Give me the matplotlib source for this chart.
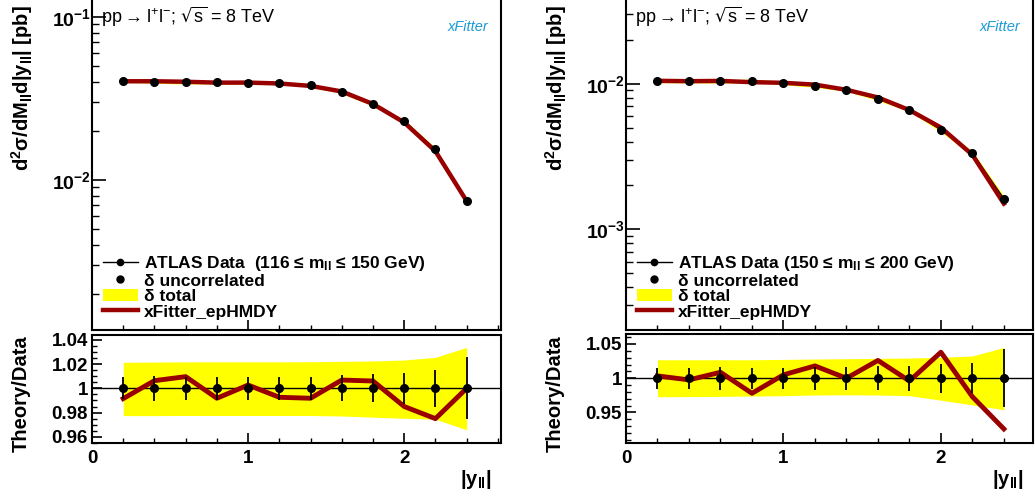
import matplotlib
matplotlib.use("Agg")
import matplotlib.pyplot as plt
import numpy as np
from matplotlib.ticker import MultipleLocator, LogLocator, NullFormatter, FuncFormatter
from matplotlib.lines import Line2D
from matplotlib.patches import Patch

## -----------------------------------------------------------------------------
## ATLAS high-mass Drell-Yan |y_ll| spectra vs xFitter_epHMDY, two mass bins
## -----------------------------------------------------------------------------

plt.rcParams["font.family"] = ["Liberation Sans", "DejaVu Sans"]
plt.rcParams["mathtext.default"] = "regular"

# |y_ll| bin centres
y_ll = [0.2, 0.4, 0.6, 0.8, 1.0, 1.2, 1.4, 1.6, 1.8, 2.0, 2.2, 2.4]

# 116 < m_ll < 150 GeV
xsec_116 = [0.0407, 0.0401, 0.0397, 0.0399, 0.0395, 0.0394, 0.0381, 0.0347, 0.0291, 0.0229, 0.0154, 0.00743]
ratio_116 = [0.9915, 1.0063, 1.0096, 0.9918, 1.0027, 0.9926, 0.9918, 1.0068, 1.0060, 0.9850, 0.9750, 1.0000]
tot_up_116 = [1.0214, 1.0216, 1.0218, 1.0218, 1.0218, 1.0218, 1.0219, 1.0222, 1.0225, 1.0233, 1.0255, 1.0337]
tot_dn_116 = [0.9775, 0.9775, 0.9776, 0.9776, 0.9776, 0.9776, 0.9776, 0.9772, 0.9762, 0.9753, 0.9745, 0.9658]
unc_116 = [0.0092, 0.0101, 0.0096, 0.0096, 0.0096, 0.0096, 0.0093, 0.0107, 0.0114, 0.0126, 0.0153, 0.0256]

# 150 < m_ll < 200 GeV
xsec_150 = [0.01044, 0.01044, 0.01037, 0.01049, 0.0101, 0.00969, 0.00909, 0.00785, 0.00662, 0.00482, 0.00334, 0.00162]
ratio_150 = [1.0034, 0.9976, 1.0087, 0.9780, 1.0050, 1.0180, 1.0000, 1.0260, 0.9960, 1.0380, 0.9730, 0.9260]
tot_up_150 = [1.0270, 1.0270, 1.0270, 1.0270, 1.0275, 1.0280, 1.0285, 1.0290, 1.0295, 1.0306, 1.0325, 1.0450]
tot_dn_150 = [0.9730, 0.9732, 0.9735, 0.9740, 0.9745, 0.9755, 0.9758, 0.9755, 0.9745, 0.9680, 0.9610, 0.9540]
unc_150 = [0.0150, 0.0153, 0.0165, 0.0150, 0.0150, 0.0170, 0.0165, 0.0175, 0.0180, 0.0210, 0.0220, 0.0420]

panels = [
    dict(xsec=xsec_116, ratio=ratio_116, up=tot_up_116, dn=tot_dn_116, unc=unc_116,
         label="ATLAS Data  (116 \u2264 m$_{ll}$ \u2264 150 GeV)",
         x0=92, x1=501, xmax=2.62, ylim=(0.001202, 0.1272), rlim=(0.9547, 1.0439),
         rmaj=0.02, rmin=0.005, bot_top=335),
    dict(xsec=xsec_150, ratio=ratio_150, up=tot_up_150, dn=tot_dn_150, unc=unc_150,
         label="ATLAS Data (150 \u2264 m$_{ll}$ \u2264 200 GeV)",
         x0=626, x1=1033, xmax=2.585, ylim=(0.000203, 0.03785), rlim=(0.905, 1.0646),
         rmaj=0.05, rmin=0.01, bot_top=334),
]

W, H = 1035, 497
fig = plt.figure(figsize=(W / 100, H / 100), dpi=100)
theory_col = "#990000"
band_col = "#ffff00"


def logfmt(v, pos):
    return "10$^{%d}$" % int(round(np.log10(v)))


for p in panels:
    left = p["x0"] / W
    width = (p["x1"] - p["x0"]) / W
    # top edge sits just above the canvas, like the original
    ax = fig.add_axes([left, 1 - 330 / H, width, 333 / H])
    rax = fig.add_axes([left, 1 - 443.3 / H, width, (443.3 - p["bot_top"]) / H])

    xs = np.array(y_ll)
    xsec = np.array(p["xsec"])
    ratio = np.array(p["ratio"])
    ymin, ymax = p["ylim"]
    ymax = ymax * 10 ** (3 / 163.0)

    # top: spectrum
    ax.fill_between(xs, xsec * np.array(p["dn"]), xsec * np.array(p["up"]), color=band_col, lw=0, zorder=1)
    ax.plot(xs, xsec, color="black", lw=1, zorder=2)
    ax.plot(xs, xsec * ratio, color=theory_col, lw=3.2, zorder=3)
    ax.plot(xs, xsec, "o", color="black", ms=5.5, zorder=4)
    ax.set_yscale("log")
    ax.set_ylim(ymin, ymax)
    ax.set_xlim(0, p["xmax"])
    ax.yaxis.set_major_locator(LogLocator(base=10))
    ax.yaxis.set_minor_locator(LogLocator(base=10, subs=np.arange(2, 10)))
    ax.yaxis.set_major_formatter(FuncFormatter(logfmt))
    ax.yaxis.set_minor_formatter(NullFormatter())
    ax.xaxis.set_major_locator(MultipleLocator(1))
    ax.xaxis.set_minor_locator(MultipleLocator(0.2))
    ax.tick_params(axis="both", which="both", direction="in", top=False, right=False)
    ax.tick_params(axis="x", labelbottom=False, which="major", length=7, width=1.2)
    ax.tick_params(axis="x", which="minor", length=3.5, width=1)
    ax.tick_params(axis="y", which="major", length=10, width=1.2, pad=1, labelsize=14)
    ax.tick_params(axis="y", which="minor", length=5, width=1)
    for lab in ax.get_yticklabels():
        lab.set_fontweight("bold")

    # ratio panel
    rax.axhline(1, color="black", lw=1, zorder=2)
    rax.fill_between(xs, p["dn"], p["up"], color=band_col, lw=0, zorder=1)
    rax.plot(xs, ratio, color=theory_col, lw=3.5, zorder=3)
    rax.errorbar(xs, np.ones(len(xs)), yerr=p["unc"], fmt="o", color="black",
                 ms=5.5, elinewidth=1.3, capsize=0, zorder=4)
    rax.set_xlim(0, p["xmax"])
    rax.set_ylim(*p["rlim"])
    rax.yaxis.set_major_locator(MultipleLocator(p["rmaj"]))
    rax.yaxis.set_minor_locator(MultipleLocator(p["rmin"]))
    rax.yaxis.set_major_formatter(FuncFormatter(lambda v, pos: "%g" % round(v, 4)))
    rax.xaxis.set_major_locator(MultipleLocator(1))
    rax.xaxis.set_minor_locator(MultipleLocator(0.2))
    rax.tick_params(axis="both", which="both", direction="in", top=False, right=False)
    rax.tick_params(axis="both", which="major", length=7, width=1.2, labelsize=13.5)
    rax.tick_params(axis="both", which="minor", length=3.5, width=1)
    rax.tick_params(axis="x", pad=5)
    rax.tick_params(axis="y", pad=3)
    for lab in rax.get_yticklabels() + rax.get_xticklabels():
        lab.set_fontweight("bold")

    for a in (ax, rax):
        for s in a.spines.values():
            s.set_linewidth(1.5)

    # legend
    handles = [Line2D([], [], color="black", lw=1, marker="o", ms=4.5),
               Line2D([], [], color="black", lw=0, marker="o", ms=5),
               Patch(facecolor=band_col, edgecolor="none"),
               Line2D([], [], color=theory_col, lw=3.2)]
    labels = [p["label"], "\u03b4 uncorrelated", "\u03b4 total", "xFitter_epHMDY"]
    ax.legend(handles, labels, loc="upper left", bbox_to_anchor=((p["x0"] + 11) / W, 1 - 254 / H),
              bbox_transform=fig.transFigure, frameon=False, borderpad=0, borderaxespad=0,
              handlelength=2.0, handletextpad=0.35, labelspacing=0.02,
              prop={"size": 12.5, "weight": "bold"})

    # process label and logo
    fig.text((p["x0"] + 9) / W, 1 - 17 / H, "pp$\\rightarrow$l$^{+}$l$^{-}$; $\\sqrt{s}$ = 8 TeV",
             fontsize=13, va="center", ha="left")
    fig.text((p["x1"] - 33) / W, 1 - 27 / H, "xFitter", fontsize=10.5, style="italic",
             color="#1a9ad6", ha="center", va="center")

    # axis titles
    fig.text((p["x0"] - 70) / W, 1 - 5 / H, "d$^{2}$\u03c3/dM$_{ll}$d|y$_{ll}$| [pb]",
             rotation=90, ha="center", va="top", fontsize=14.5, fontweight="bold")
    fig.text((p["x0"] - 71) / W, 1 - 335 / H, "Theory/Data",
             rotation=90, ha="center", va="top", fontsize=14.5, fontweight="bold")
    fig.text((p["x1"] - 9) / W, 1 - 468 / H, "|y$_{ll}$|",
             ha="right", va="top", fontsize=14.5, fontweight="bold")

plt.savefig("out.png", dpi=100)
